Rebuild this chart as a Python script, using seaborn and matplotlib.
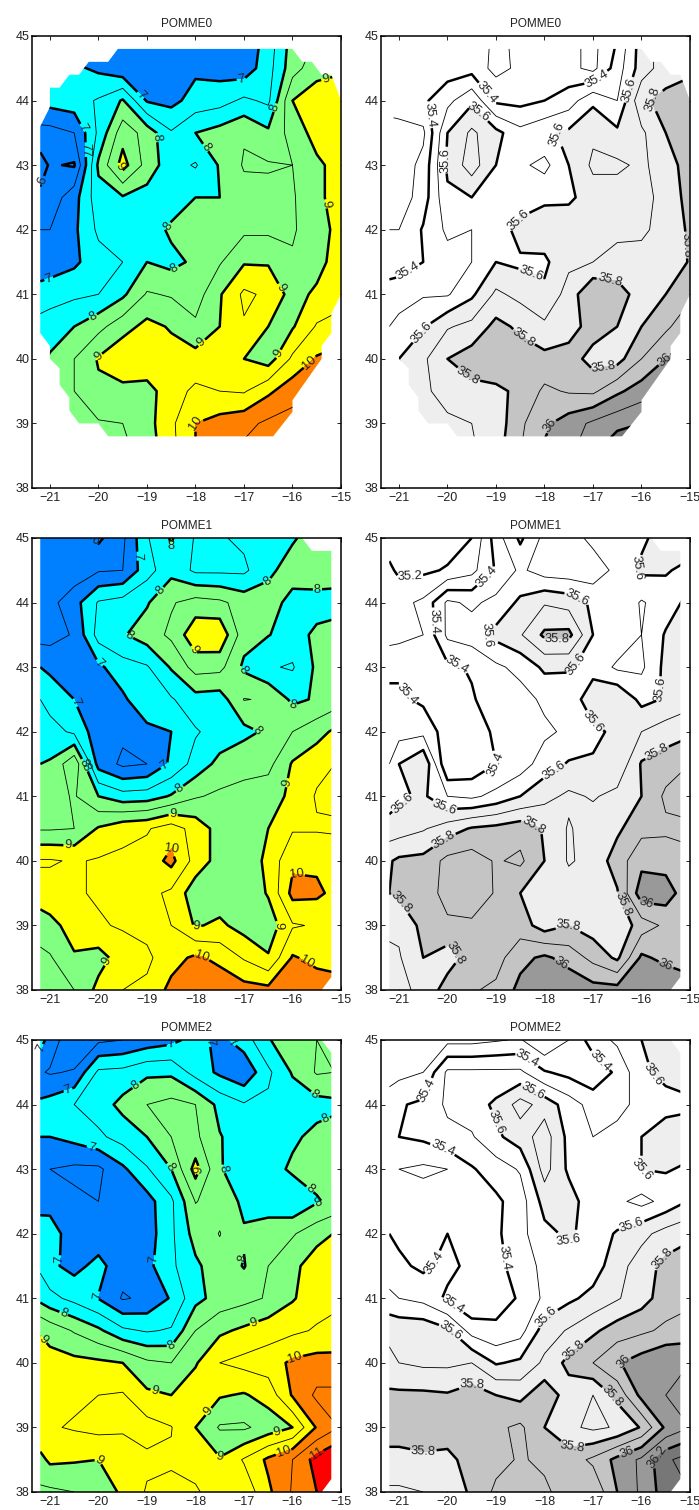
import numpy as np
import matplotlib
matplotlib.use("Agg")
import matplotlib.pyplot as plt
from matplotlib.patches import Polygon
import seaborn as sns

LON = [-21.2, -21, -20.5, -20, -19.5, -19, -18.5, -18, -17.5, -17, -16.5, -16, -15.5, -15]
LAT = [45, 44.5, 44, 43.5, 43, 42.5, 42, 41.5, 41, 40.5, 40, 39.5, 39, 38.5, 38]

T0 = [
 [6.5,6.5,6.5,6.5,6.5,6.5,6.5,6.5,6.6,6.6,7.2,8.2,8.5,8.8],
 [7.2,7.2,7.1,6.9,6.6,6.6,6.7,6.9,6.8,6.7,7.3,8.3,8.8,8.9],
 [7.1,7.2,7.3,7.55,8.05,6.95,6.85,7.2,7.3,7.6,7.4,9.0,9.3,9.4],
 [6.3,6.3,6.5,7.6,8.8,8.3,7.55,8.0,8.2,8.45,8.1,8.7,9.2,9.3],
 [5.8,6.05,5.95,8.1,9.2,8.3,7.7,7.45,8.05,8.55,8.55,8.5,8.9,9.2],
 [6.1,6.2,6.8,7.8,7.95,7.8,7.7,8.0,8.0,8.3,8.35,8.45,8.85,9.3],
 [6.5,6.5,6.9,7.6,7.6,7.7,8.1,8.2,8.3,8.4,8.4,8.45,8.75,9.2],
 [6.7,6.75,6.9,7.3,7.5,8.0,7.85,8.1,8.45,8.95,8.95,8.55,8.8,9.3],
 [7.2,7.25,7.4,7.5,7.9,8.55,8.45,8.25,8.95,9.6,9.4,8.8,9.1,9.3],
 [7.7,7.8,8.0,8.35,8.8,9.15,8.95,8.6,9.0,9.45,9.0,8.95,9.55,9.7],
 [7.9,8.05,8.5,9.05,9.4,9.4,9.2,9.2,9.3,9.0,8.75,9.6,10.05,10.2],
 [8.0,8.1,8.5,8.9,8.85,8.8,9.3,9.6,9.5,9.45,9.9,10.3,10.45,10.5],
 [8.2,8.3,8.4,8.45,8.5,8.8,9.4,10.0,10.2,10.35,10.6,10.7,10.7,10.7],
 [8.2,8.2,8.2,8.2,8.35,8.7,9.35,10.0,10.35,10.65,10.8,10.8,10.8,10.8],
 [8.2,8.2,8.2,8.2,8.3,8.7,9.3,10.0,10.3,10.7,10.8,10.8,10.8,10.8],
]
S0 = [
 [35.35,35.35,35.35,35.35,35.36,35.28,35.32,35.33,35.33,35.27,35.4,35.65,35.75,35.78],
 [35.35,35.35,35.35,35.35,35.36,35.27,35.32,35.33,35.33,35.27,35.45,35.65,35.75,35.78],
 [35.38,35.38,35.38,35.47,35.58,35.38,35.37,35.4,35.45,35.58,35.5,35.78,35.83,35.85],
 [35.22,35.24,35.28,35.6,35.72,35.63,35.53,35.58,35.62,35.68,35.62,35.68,35.8,35.85],
 [35.22,35.24,35.33,35.62,35.75,35.6,35.52,35.47,35.6,35.72,35.72,35.68,35.75,35.85],
 [35.2,35.24,35.35,35.58,35.6,35.52,35.52,35.58,35.58,35.65,35.65,35.67,35.73,35.84],
 [35.3,35.3,35.41,35.52,35.5,35.52,35.65,35.66,35.67,35.68,35.68,35.69,35.72,35.82],
 [35.33,35.34,35.4,35.46,35.5,35.6,35.58,35.58,35.68,35.7,35.73,35.72,35.72,35.81],
 [35.46,35.47,35.49,35.49,35.58,35.72,35.67,35.62,35.74,35.9,35.85,35.75,35.8,35.88],
 [35.5,35.52,35.59,35.69,35.73,35.83,35.78,35.72,35.75,35.85,35.8,35.8,35.88,35.97],
 [35.6,35.6,35.68,35.8,35.85,35.87,35.85,35.83,35.85,35.76,35.76,35.9,36.0,36.05],
 [35.6,35.6,35.68,35.74,35.77,35.78,35.82,35.92,35.89,35.88,35.98,36.05,36.1,36.1],
 [35.62,35.62,35.65,35.68,35.7,35.74,35.88,35.98,36.05,36.12,36.17,36.2,36.2,36.2],
 [35.6,35.6,35.62,35.65,35.68,35.76,35.9,36.02,36.08,36.2,36.3,36.3,36.3,36.3],
 [35.6,35.6,35.62,35.65,35.68,35.76,35.9,36.02,36.08,36.2,36.3,36.3,36.3,36.3],
]
T1 = [
 [6.2,6.2,6.2,5.9,6.4,7.45,8.05,7.45,7.45,7.6,7.8,7.95,8.2,8.2],
 [6.1,6.1,6.2,6.45,6.5,7.3,7.85,7.4,7.4,7.4,7.9,8.2,8.3,8.3],
 [6.3,6.35,6.8,7.55,7.7,7.95,8.45,8.7,8.6,8.3,8.2,7.85,7.8,7.75],
 [6.3,6.3,6.55,7.7,7.95,8.25,8.6,9.35,9.4,8.2,8.02,7.8,8.1,8.3],
 [7.0,6.9,6.7,6.9,7.3,7.45,8.05,8.7,8.65,7.9,7.55,7.45,8.1,8.25],
 [7.5,7.3,7.0,6.7,6.9,7.4,7.45,7.8,7.75,8.52,8.45,7.9,8.05,8.3],
 [7.9,7.7,7.4,6.7,6.6,6.85,7.0,7.45,7.7,7.85,8.1,8.5,8.8,9.2],
 [8.0,8.05,8.9,6.8,6.4,6.5,7.1,7.7,8.15,8.4,8.35,9.05,9.35,9.55],
 [8.2,8.3,8.55,8.0,7.7,7.75,8.05,8.45,8.6,8.6,8.8,9.1,9.55,9.6],
 [8.45,8.45,8.5,9.05,9.35,9.45,9.75,9.3,8.8,8.6,9.0,9.45,9.45,9.45],
 [9.55,9.55,9.45,9.55,9.6,9.7,10.15,9.3,8.8,8.6,9.15,9.9,9.9,9.7],
 [9.3,9.3,9.45,9.55,9.6,9.65,9.4,8.7,8.7,8.6,9.05,10.15,10.1,9.8],
 [8.7,8.85,9.2,9.45,9.55,9.65,9.5,8.95,9.1,8.8,8.7,9.45,9.55,9.6],
 [8.4,8.45,8.95,8.8,9.25,9.4,9.8,10.1,9.85,9.45,9.05,10.05,9.85,9.8],
 [8.3,8.3,8.5,9.15,9.5,9.6,10.15,10.5,10.4,10.2,10.15,10.3,10.3,10.2],
]
S1 = [
 [35.15,35.15,35.15,35.15,35.2,35.45,35.62,35.47,35.45,35.53,35.56,35.58,35.65,35.66],
 [35.22,35.18,35.18,35.21,35.27,35.41,35.52,35.45,35.44,35.44,35.53,35.62,35.61,35.57],
 [35.26,35.27,35.32,35.52,35.48,35.53,35.62,35.69,35.66,35.58,35.58,35.49,35.55,35.63],
 [35.26,35.27,35.3,35.52,35.55,35.63,35.69,35.82,35.83,35.6,35.58,35.5,35.61,35.65],
 [35.38,35.38,35.33,35.38,35.41,35.48,35.53,35.62,35.61,35.57,35.48,35.48,35.63,35.66],
 [35.42,35.42,35.38,35.33,35.39,35.45,35.46,35.52,35.55,35.65,35.7,35.57,35.61,35.66],
 [35.46,35.46,35.47,35.35,35.37,35.41,35.43,35.48,35.52,35.58,35.62,35.7,35.75,35.78],
 [35.5,35.6,35.7,35.3,35.33,35.4,35.45,35.55,35.61,35.61,35.62,35.81,35.85,35.9],
 [35.55,35.58,35.62,35.5,35.48,35.53,35.6,35.67,35.72,35.69,35.73,35.8,35.92,35.95],
 [35.64,35.65,35.69,35.75,35.81,35.83,35.86,35.79,35.69,35.75,35.78,35.87,35.88,35.88],
 [35.79,35.82,35.83,35.93,35.95,35.89,35.92,35.8,35.69,35.73,35.85,35.97,35.96,35.92],
 [35.8,35.82,35.84,35.94,35.97,35.89,35.8,35.72,35.75,35.75,35.79,36.06,36.05,35.93],
 [35.72,35.72,35.83,35.88,35.88,35.87,35.85,35.75,35.8,35.75,35.72,35.85,35.92,35.93],
 [35.68,35.69,35.8,35.75,35.85,35.86,35.97,36.02,35.96,35.87,35.78,36.02,35.97,35.95],
 [35.68,35.68,35.72,35.85,35.89,35.92,36.03,36.1,36.08,36.04,36.04,36.08,36.1,36.05],
]
T2 = [
 [7.2,6.8,6.05,6.4,6.5,6.7,6.85,7.2,6.85,7.25,7.95,8.4,8.5,8.5],
 [6.55,6.45,6.55,7.6,7.65,7.9,7.9,7.3,6.9,6.6,7.4,8.05,8.55,8.48],
 [7.1,7.2,7.5,7.75,8.15,8.5,8.65,8.5,7.85,7.55,7.6,7.7,7.8,7.9],
 [7.0,7.0,7.15,7.4,7.7,8.0,8.5,8.6,8.03,7.75,7.7,7.9,8.15,8.3],
 [6.75,6.5,6.4,6.4,6.9,7.45,8.0,9.2,8.03,7.8,7.75,8.1,8.2,8.3],
 [6.85,6.8,6.6,6.5,6.7,6.8,7.4,8.52,8.3,7.9,7.7,7.55,7.95,8.2],
 [7.2,7.25,6.7,6.7,6.8,6.75,7.4,8.2,8.52,8.05,8.3,8.45,8.8,9.1],
 [7.4,7.1,6.85,7.15,6.7,6.85,7.4,7.9,8.3,7.97,8.5,8.85,9.3,9.6],
 [7.85,7.65,7.35,6.98,6.45,6.6,7.05,7.85,8.2,8.35,8.55,8.95,9.3,9.45],
 [8.98,8.8,8.45,8.1,7.6,7.45,7.55,8.5,8.9,9.1,9.3,9.4,9.55,9.6],
 [9.1,9.2,9.15,9.1,9.0,8.6,8.5,8.95,9.5,9.65,9.75,10.1,10.2,10.2],
 [9.35,9.35,9.4,9.5,9.55,9.1,9.0,9.3,9.05,8.95,9.2,10.05,10.6,10.6],
 [9.45,9.45,9.55,9.65,9.55,9.7,9.52,9.0,8.45,8.42,8.7,9.0,10.05,10.55],
 [8.85,9.1,9.05,9.0,9.3,9.4,9.45,9.2,9.05,9.55,10.1,10.5,11.2,11.6],
 [8.4,8.4,8.5,8.65,9.1,9.55,9.6,9.6,9.1,9.15,9.9,10.55,11.0,11.2],
]
S2 = [
 [35.28,35.3,35.2,35.27,35.27,35.29,35.31,35.2,35.3,35.45,35.52,35.6,35.65,35.68],
 [35.25,35.27,35.3,35.52,35.52,35.52,35.52,35.41,35.37,35.33,35.42,35.58,35.63,35.65],
 [35.36,35.39,35.42,35.52,35.55,35.62,35.74,35.66,35.55,35.46,35.47,35.53,35.56,35.58],
 [35.4,35.4,35.42,35.47,35.49,35.58,35.65,35.75,35.57,35.5,35.53,35.6,35.66,35.66],
 [35.34,35.3,35.28,35.3,35.39,35.45,35.51,35.74,35.58,35.53,35.55,35.6,35.61,35.58],
 [35.4,35.38,35.35,35.33,35.36,35.38,35.45,35.64,35.65,35.53,35.52,35.47,35.53,35.61],
 [35.4,35.38,35.35,35.4,35.38,35.38,35.47,35.57,35.62,35.55,35.61,35.67,35.74,35.78],
 [35.45,35.42,35.38,35.43,35.37,35.36,35.46,35.52,35.52,35.55,35.66,35.75,35.83,35.86],
 [35.52,35.5,35.47,35.38,35.3,35.36,35.41,35.52,35.58,35.63,35.69,35.76,35.85,35.88],
 [35.68,35.67,35.67,35.62,35.46,35.42,35.46,35.65,35.71,35.78,35.85,35.88,35.92,35.94],
 [35.72,35.7,35.68,35.68,35.7,35.59,35.62,35.72,35.83,35.9,35.99,36.05,36.1,36.1],
 [35.82,35.82,35.82,35.81,35.85,35.8,35.77,35.87,35.75,35.7,35.83,36.03,36.1,36.12],
 [35.83,35.83,35.83,35.84,35.85,35.88,35.92,35.8,35.72,35.68,35.71,35.81,36.02,36.1],
 [35.78,35.78,35.79,35.78,35.83,35.87,35.91,35.88,35.85,35.92,36.03,36.12,36.28,36.35],
 [35.68,35.68,35.7,35.72,35.82,35.92,35.92,35.92,35.85,35.82,36.0,36.12,36.25,36.3],
]

TITLES = ["POMME0", "POMME1", "POMME2"]
DOMAIN0_LON = [-21.2,-21.2,-21,-21,-20.8,-20.6,-20.4,-20.2,-19.8,-19.6,-16,-15.8,-15.6,-15.4,-15.2,-15,-15,-15.2,-15.2,-15.4,-15.4,-16,-16,-16.4,-19.8,-20,-20.4,-20.6,-20.6,-20.8,-20.8,-21,-21]
DOMAIN0_LAT = [40.4,43.6,43.9,44.2,44.2,44.4,44.4,44.6,44.6,44.8,44.8,44.6,44.6,44.4,44.4,44,41,40.7,40.4,40.2,40,39.36,39.18,38.8,38.8,39,39,39.2,39.4,39.6,39.85,40,40.2]
DOMAIN1_LON = [-21.2,-21.2,-15.8,-15.6,-15.2,-15.2,-15.4]
DOMAIN1_LAT = [38,45,45,44.8,44.8,38.2,38]
DOMAIN2_LON = [-21.2,-21.2,-15.4,-15.2,-15.2,-15.4]
DOMAIN2_LAT = [38,45,45,44.8,38.2,38]

T_FILL_LEVELS = [0, 7, 8, 9, 10, 11, 20]
T_COLORS = ["#0080ff", "#00ffff", "#80ff80", "#ffff00", "#ff8000", "#ff0000"]
T_THICK = [6, 7, 8, 9, 10, 11]
T_THIN = [6.5, 7.5, 8.5, 9.5, 10.5, 11.5]
S_FILL_LEVELS = [30, 35.6, 35.8, 36.0, 36.2, 40]
S_COLORS = ["#ffffff", "#eeeeee", "#c4c4c4", "#999999", "#777777"]
S_THICK = [35.2, 35.4, 35.6, 35.8, 36.0, 36.2]
S_THIN = [35.1, 35.3, 35.5, 35.7, 35.9, 36.1, 36.3]

LABELS_T0 = [(-19.08,44.12),(-17.06,44.35),(-21.06,41.32),(-20.38,43.28),
             (-20.71,43.42),(-20.98,42.72),
             (-20.13,43.2),(-18.53,43.44),(-17.95,43.19),(-16.36,43.89),(-18.63,42.09),(-18.48,41.47),(-20.11,40.65),
             (-15.31,44.32),(-19.52,43.0),(-15.31,42.4),(-16.11,41.16),(-17.85,40.23),(-20.07,40.09),(-16.36,40.11),
             (-15.74,40.03),(-18.01,39.0)]
LABELS_S0 = [(-20.77,41.3),(-20.36,43.78),(-19.22,44.09),(-16.91,44.32),
             (-19.37,43.82),(-20.09,43.08),(-18.07,43.39),(-18.48,42.12),(-18.33,41.22),(-20.6,40.45),(-16.23,44.16),
             (-15.15,41.76),(-15.81,44.05),(-16.64,41.29),(-19.57,39.74),(-18.44,40.32),(-16.76,39.78),
             (-15.71,40.14),(-18.02,39.01)]
LABELS_T1 = [(-20.2,44.83),
             (-19.15,44.72),(-19.97,43.08),(-20.48,42.45),(-18.63,41.47),
             (-18.38,44.78),(-16.5,44.3),(-18.67,44.15),(-15.5,44.35),(-19.35,43.51),(-17.19,42.88),(-16.04,42.28),(-16.73,42.01),(-20.36,41.49),(-18.32,41.11),(-18.45,40.79),
             (-17.97,43.3),(-20.63,41.33),(-16.18,41.22),(-20.63,40.19),(-17.97,38.96),(-16.22,39.0),(-19.85,38.45),
             (-18.62,40.35),(-15.9,39.86),(-17.85,38.56),(-15.73,38.41)]
LABELS_S1 = [(-20.77,44.35),
             (-19.16,44.38),(-19.78,43.08),(-20.77,42.62),(-18.91,41.49),
             (-16.25,44.58),(-17.36,44.03),(-19.53,43.6),(-17.34,43.04),(-15.6,42.65),(-17.03,42.14),(-20.63,40.6),(-20.03,40.87),(-17.82,41.41),(-19.8,43.73),
             (-17.74,43.37),(-15.77,41.8),(-20.26,40.53),(-18.1,40.8),(-20.87,39.4),(-17.5,39.17),(-16.43,39.32),(-19.94,38.5),
             (-15.9,39.4),(-17.6,38.47),(-15.53,38.32)]
LABELS_T2 = [(-21.12,44.85),(-18.48,44.85),(-17.65,44.97),(-17.23,44.97),(-20.63,44.23),(-20.13,43.39),(-20.92,41.6),(-18.88,41.6),(-20.13,41.07),
             (-19.33,44.41),(-18.55,43.02),(-17.45,43.0),(-15.47,44.23),(-15.29,43.73),(-15.43,42.88),(-15.43,42.4),(-20.69,40.82),(-18.48,40.14),(-17.31,41.66),
             (-17.97,43.0),(-21,40.45),(-18.83,39.58),(-16.79,40.62),(-17.82,39.3),(-16.3,38.9),(-19.97,38.5),(-17.19,38.1),
             (-15.95,40.1),(-16.2,38.65),
             (-15.57,38.65)]
LABELS_S2 = [(-20.46,44.23),(-18.4,44.66),(-16.8,44.72),(-20.09,43.33),(-20.3,41.56),(-18.91,41.62),(-19.94,40.85),
             (-18.25,44.2),(-19.12,43.69),(-17.5,41.78),(-15.77,44.46),(-16.12,42.95),(-16.19,42.1),(-17.96,40.71),(-19.94,40.49),
             (-15.71,41.7),(-17.5,40.3),(-19.53,39.78),(-16.58,39.5),(-17.43,38.68),(-20.48,38.5),
             (-16.39,40.06),(-16.33,38.65),
             (-15.71,38.58)]

sns.set_style("ticks")
plt.rcParams["font.family"] = ["Liberation Sans", "DejaVu Sans"]
W, H = 699, 1510
fig = plt.figure(figsize=(W / 100, H / 100), dpi=100)

COLS = [(32, 309), (381, 309)]
ROWS = [36, 538, 1040]
AX_H = 452


def panel(col, row, z, fill_levels, colors, thick, thin, labels, dom_lon, dom_lat, title):
    x0, w = COLS[col]
    y0 = ROWS[row]
    ax = fig.add_axes([x0 / W, 1 - (y0 + AX_H) / H, w / W, AX_H / H])
    z = np.array(z)
    dom = Polygon(np.column_stack([dom_lon, dom_lat]), closed=True, transform=ax.transData)
    cf = ax.contourf(LON, LAT, z, levels=fill_levels, colors=colors)
    cf.set_clip_path(dom)
    c1 = ax.contour(LON, LAT, z, levels=thin, colors="black", linewidths=0.6)
    c1.set_clip_path(dom)
    c2 = ax.contour(LON, LAT, z, levels=thick, colors="black", linewidths=1.8)
    ax.set_xlim(-21.37, -15)
    ax.set_ylim(38, 45)
    ax.clabel(c2, manual=labels, fmt="%g", fontsize=9.3, inline=True,
              inline_spacing=1, colors="#222222")
    c2.set_clip_path(dom)
    ax.set_xticks(range(-21, -14))
    ax.set_yticks(range(38, 46))
    ax.tick_params(direction="in", top=True, right=True, length=3, width=0.7,
                   labelsize=9, pad=3, color="#222222", labelcolor="#222222")
    ax.tick_params(axis="y", pad=2)
    for s in ax.spines.values():
        s.set_linewidth(1.1)
        s.set_color("black")
    ax.set_title(title, fontsize=8.5, pad=6.5, color="#222222")
    return ax


T = [T0, T1, T2]
S = [S0, S1, S2]
LT = [LABELS_T0, LABELS_T1, LABELS_T2]
LS = [LABELS_S0, LABELS_S1, LABELS_S2]
DL = [(DOMAIN0_LON, DOMAIN0_LAT), (DOMAIN1_LON, DOMAIN1_LAT), (DOMAIN2_LON, DOMAIN2_LAT)]
for r in range(3):
    panel(0, r, T[r], T_FILL_LEVELS, T_COLORS, T_THICK, T_THIN, LT[r], DL[r][0], DL[r][1], TITLES[r])
    panel(1, r, S[r], S_FILL_LEVELS, S_COLORS, S_THICK, S_THIN, LS[r], DL[r][0], DL[r][1], TITLES[r])

fig.savefig("out.png", dpi=100)
